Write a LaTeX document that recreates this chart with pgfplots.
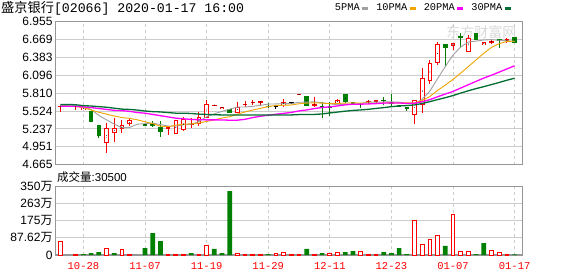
\documentclass[border=0pt]{standalone}
\usepackage{fontspec}
\setmainfont{Liberation Sans}
\newfontfamily\cjk{Noto Sans CJK SC}
\newfontfamily\mono{Liberation Mono}
\usepackage{pgfplots}
\pgfplotsset{compat=1.18}
\usepackage{pgfplotstable}
\definecolor{kred}{RGB}{255,0,0}
\definecolor{kgreen}{RGB}{0,128,0}
\definecolor{ma5}{RGB}{160,160,160}
\definecolor{ma10}{RGB}{240,165,0}
\definecolor{ma20}{RGB}{255,0,255}
\definecolor{ma30}{RGB}{0,110,50}
\definecolor{gridc}{RGB}{204,204,204}
\definecolor{framec}{RGB}{150,150,150}
\pgfplotsset{
  candle/.style={only marks, mark=*, mark options={draw=none, fill=none, scale=0.01}, forget plot,
    error bars/.cd, y dir=both, y explicit, error mark=none,
    error bar style={#1}},
}

\pgfplotstableread{
i O H L C
0 5.60 5.61 5.51 5.61
2 5.60 5.605 5.54 5.60
3 5.54 5.585 5.54 5.585
6 5.01 5.33 4.86 5.26
7 5.18 5.41 5.03 5.25
8 5.23 5.38 5.17 5.30
9 5.31 5.40 5.29 5.38
14 5.25 5.28 5.14 5.26
15 5.15 5.38 5.15 5.38
16 5.22 5.43 5.21 5.40
17 5.31 5.41 5.25 5.32
18 5.31 5.51 5.29 5.43
19 5.42 5.70 5.41 5.63
20 5.62 5.62 5.62 5.62
21 5.56 5.595 5.56 5.595
23 5.50 5.675 5.50 5.595
24 5.625 5.68 5.595 5.635
25 5.65 5.70 5.62 5.675
26 5.67 5.675 5.61 5.675
29 5.62 5.715 5.595 5.665
31 5.79 5.79 5.79 5.79
33 5.62 5.755 5.59 5.63
36 5.65 5.71 5.63 5.70
40 5.68 5.70 5.63 5.69
41 5.675 5.70 5.64 5.70
46 5.46 5.70 5.32 5.70
47 5.62 6.21 5.50 6.05
48 6.00 6.34 5.96 6.30
49 6.29 6.63 6.26 6.60
51 6.57 6.61 6.50 6.61
53 6.47 6.74 6.47 6.70
55 6.58 6.63 6.58 6.63
56 6.63 6.67 6.60 6.64
58 6.64 6.70 6.62 6.67
}\kup

\pgfplotstableread{
i O H L C
4 5.53 5.53 5.355 5.355
5 5.30 5.30 5.09 5.12
11 5.31 5.31 5.30 5.30
12 5.33 5.36 5.27 5.29
13 5.27 5.37 5.11 5.19
22 5.55 5.555 5.50 5.50
27 5.61 5.66 5.57 5.60
32 5.77 5.77 5.60 5.61
34 5.60 5.67 5.41 5.59
35 5.60 5.665 5.44 5.59
37 5.79 5.80 5.65 5.67
38 5.67 5.67 5.63 5.64
39 5.64 5.66 5.57 5.63
42 5.70 5.75 5.62 5.69
43 5.66 5.79 5.60 5.65
44 5.62 5.62 5.59 5.60
45 5.58 5.58 5.52 5.57
50 6.60 6.60 6.23 6.54
52 6.72 6.77 6.55 6.70
54 6.78 6.78 6.67 6.67
57 6.67 6.67 6.53 6.64
59 6.71 6.71 6.62 6.62
}\kdown

\pgfplotstableread{
i O H L C
28 5.605 5.605 5.56 5.605
30 5.665 5.665 5.63 5.665
}\kflat

\pgfplotstableread{
i m5 m10 m20 m30
0 5.610 5.600 5.600 5.630
1 5.610 5.600 5.600 5.630
2 5.605 5.595 5.600 5.625
3 5.590 5.580 5.590 5.610
4 5.552 5.540 5.580 5.605
5 5.454 5.505 5.565 5.595
6 5.384 5.475 5.550 5.585
7 5.314 5.445 5.535 5.570
8 5.257 5.420 5.530 5.555
9 5.262 5.407 5.520 5.550
10 5.314 5.384 5.500 5.540
11 5.322 5.353 5.490 5.525
12 5.330 5.322 5.470 5.515
13 5.308 5.283 5.450 5.510
14 5.284 5.273 5.430 5.500
15 5.284 5.299 5.410 5.490
16 5.304 5.313 5.400 5.490
17 5.310 5.320 5.390 5.485
18 5.358 5.333 5.385 5.475
19 5.432 5.358 5.383 5.470
20 5.480 5.382 5.383 5.465
21 5.519 5.412 5.382 5.462
22 5.555 5.433 5.377 5.460
23 5.588 5.473 5.378 5.460
24 5.589 5.511 5.392 5.460
25 5.600 5.540 5.420 5.460
26 5.616 5.568 5.440 5.460
27 5.636 5.596 5.458 5.460
28 5.638 5.613 5.473 5.460
29 5.644 5.617 5.487 5.461
30 5.642 5.621 5.502 5.462
31 5.665 5.641 5.526 5.468
32 5.667 5.652 5.542 5.469
33 5.672 5.655 5.564 5.470
34 5.657 5.651 5.581 5.478
35 5.642 5.642 5.591 5.494
36 5.624 5.645 5.606 5.508
37 5.636 5.652 5.624 5.522
38 5.638 5.655 5.634 5.534
39 5.646 5.652 5.634 5.542
40 5.666 5.654 5.638 5.552
41 5.666 5.645 5.643 5.566
42 5.670 5.653 5.652 5.579
43 5.672 5.655 5.655 5.594
44 5.666 5.656 5.653 5.606
45 5.642 5.654 5.648 5.612
46 5.642 5.654 5.649 5.622
47 5.714 5.692 5.672 5.646
48 5.844 5.758 5.707 5.675
49 6.044 5.855 5.753 5.708
50 6.238 5.940 5.797 5.738
51 6.420 6.031 5.838 5.772
52 6.550 6.132 5.893 5.812
53 6.630 6.237 5.946 5.849
54 6.644 6.344 6.000 5.884
55 6.662 6.450 6.052 5.915
56 6.668 6.544 6.099 5.948
57 6.656 6.603 6.148 5.982
58 6.650 6.640 6.199 6.018
59 6.640 6.642 6.249 6.050
}\ma

\pgfplotstableread{
i v
0 71
2 5
6 34
8 29
9 5
14 5
15 5
16 5
18 5
19 49
23 10
24 5
25 5
26 5
28 10
29 15
30 5
31 5
33 5
35 10
36 15
39 20
40 5
41 5
46 177
47 56
48 80
49 100
51 204
52 20
53 20
56 25
57 15
58 5
}\vred

\pgfplotstableread{
i v
3 5
4 10
5 15
7 10
11 35
12 112
13 71
17 10
20 31
21 10
22 325
27 5
32 31
34 10
37 15
38 20
42 15
43 10
44 35
45 5
50 46
54 5
55 61
59 3
}\vgreen

\begin{document}
\begin{tikzpicture}
\path[use as bounding box, fill=white] (0,0) rectangle (578pt,276pt);

\node[anchor=west, inner sep=0pt, font=\fontsize{13.2}{14}\selectfont] at (1pt,267.5pt) {{\cjk 盛京银行}{\mono [02066] 2020-01-17 16:00}};
\node[anchor=west, inner sep=0pt, font=\fontsize{11.5}{12}\selectfont] at (57pt,99.3pt) {{\cjk 成交量}:30500};

\begin{axis}[
  at={(55.3pt,111.3pt)}, anchor=south west, scale only axis,
  width=467pt, height=143pt,
  xmin=-0.65, xmax=60, ymin=4.665, ymax=6.955,
  xtick={3,11,19,27,35,43,51,59}, xticklabels={},
  ytick={4.665,4.951,5.237,5.524,5.810,6.096,6.383,6.669,6.955},
  yticklabels={4.665,4.951,5.237,5.524,5.810,6.096,6.383,6.669,6.955},
  major tick length=0pt,
  xmajorgrids, ymajorgrids,
  x grid style={color=gridc, line width=0.8pt, dash pattern=on 3pt off 3pt},
  y grid style={color=gridc, line width=1pt},
  axis line style={color=framec, line width=1.3pt},
  yticklabel style={font=\fontsize{12}{12}\selectfont, anchor=east, inner sep=0pt, xshift=-2.6pt},
  legend plot pos=right,
  legend columns=-1,
  legend style={at={(0.978,1.094)}, anchor=east, draw=none, fill=none,
    font=\mono\fontsize{10.3}{10}\selectfont, inner sep=0pt,
    nodes={inner sep=1pt},
    /tikz/every even column/.append style={column sep=6pt}},
  legend image code/.code={\draw[line width=2.6pt] (0pt,0pt) -- (6pt,0pt);},
]
% watermark
\node[anchor=east, text=gray!30, font=\cjk\fontsize{14}{14}\selectfont] at (rel axis cs:0.995,0.925) {东方财富网};

% red (up) candles
\addplot[candle={kred, line width=1pt}]
  table[x=i, y expr={(\thisrow{H}+\thisrow{L})/2}, y error expr={(\thisrow{H}-\thisrow{L})/2}] {\kup};
\addplot[candle={kred, line width=4.6pt}]
  table[x=i, y expr={(\thisrow{O}+\thisrow{C})/2}, y error expr={max(abs(\thisrow{C}-\thisrow{O})/2,0.008)}] {\kup};
\addplot[candle={white, line width=2.6pt}]
  table[x=i, y expr={(\thisrow{O}+\thisrow{C})/2}, y error expr={max(abs(\thisrow{C}-\thisrow{O})/2-0.016,0)}] {\kup};
% green (down) candles
\addplot[candle={kgreen, line width=1pt}]
  table[x=i, y expr={(\thisrow{H}+\thisrow{L})/2}, y error expr={(\thisrow{H}-\thisrow{L})/2}] {\kdown};
\addplot[candle={kgreen, line width=4.6pt}]
  table[x=i, y expr={(\thisrow{O}+\thisrow{C})/2}, y error expr={max(abs(\thisrow{C}-\thisrow{O})/2,0.008)}] {\kdown};
% flat candles
\addplot[candle={black, line width=1pt}]
  table[x=i, y expr={(\thisrow{H}+\thisrow{L})/2}, y error expr={(\thisrow{H}-\thisrow{L})/2}] {\kflat};
\addplot[candle={black, line width=4.6pt}]
  table[x=i, y expr={(\thisrow{O}+\thisrow{C})/2}, y error expr={0.008}] {\kflat};

% moving averages
\addplot[ma5, line width=0.9pt, mark=none] table[x=i, y=m5] {\ma};
\addlegendentry{5PMA}
\addplot[ma10, line width=0.9pt, mark=none] table[x=i, y=m10] {\ma};
\addlegendentry{10PMA}
\addplot[ma20, line width=1.3pt, mark=none] table[x=i, y=m20] {\ma};
\addlegendentry{20PMA}
\addplot[ma30, line width=1.3pt, mark=none] table[x=i, y=m30] {\ma};
\addlegendentry{30PMA}
\end{axis}

\begin{axis}[
  at={(55.3pt,21pt)}, anchor=south west, scale only axis,
  width=467pt, height=68.7pt,
  xmin=-0.65, xmax=60, ymin=0, ymax=350,
  xtick={3,11,19,27,35,43,51,59},
  xticklabels={10-28,11-07,11-19,11-29,12-11,12-23,01-07,01-17},
  ytick={0,87.62,175,263,350},
  yticklabels={0,{87.62{\cjk 万}},{175{\cjk 万}},{263{\cjk 万}},{350{\cjk 万}}},
  major tick length=0pt,
  xmajorgrids, ymajorgrids,
  x grid style={color=gridc, line width=0.8pt, dash pattern=on 3pt off 3pt},
  y grid style={color=gridc, line width=1pt},
  axis line style={color=framec, line width=1.3pt},
  yticklabel style={font=\fontsize{12}{12}\selectfont, anchor=east, inner sep=0pt, xshift=-2.6pt},
  xticklabel style={font=\mono\fontsize{10.5}{10.5}\selectfont, text=kred, anchor=center, inner sep=0pt, yshift=-11pt},
]
\addplot[ybar, bar width=3.7pt, bar shift=0pt, draw=kred, fill=white, line width=1pt] table[x=i, y=v] {\vred};
\addplot[ybar, bar width=4.7pt, bar shift=0pt, draw=none, fill=kgreen] table[x=i, y=v] {\vgreen};
\end{axis}
\end{tikzpicture}
\end{document}
